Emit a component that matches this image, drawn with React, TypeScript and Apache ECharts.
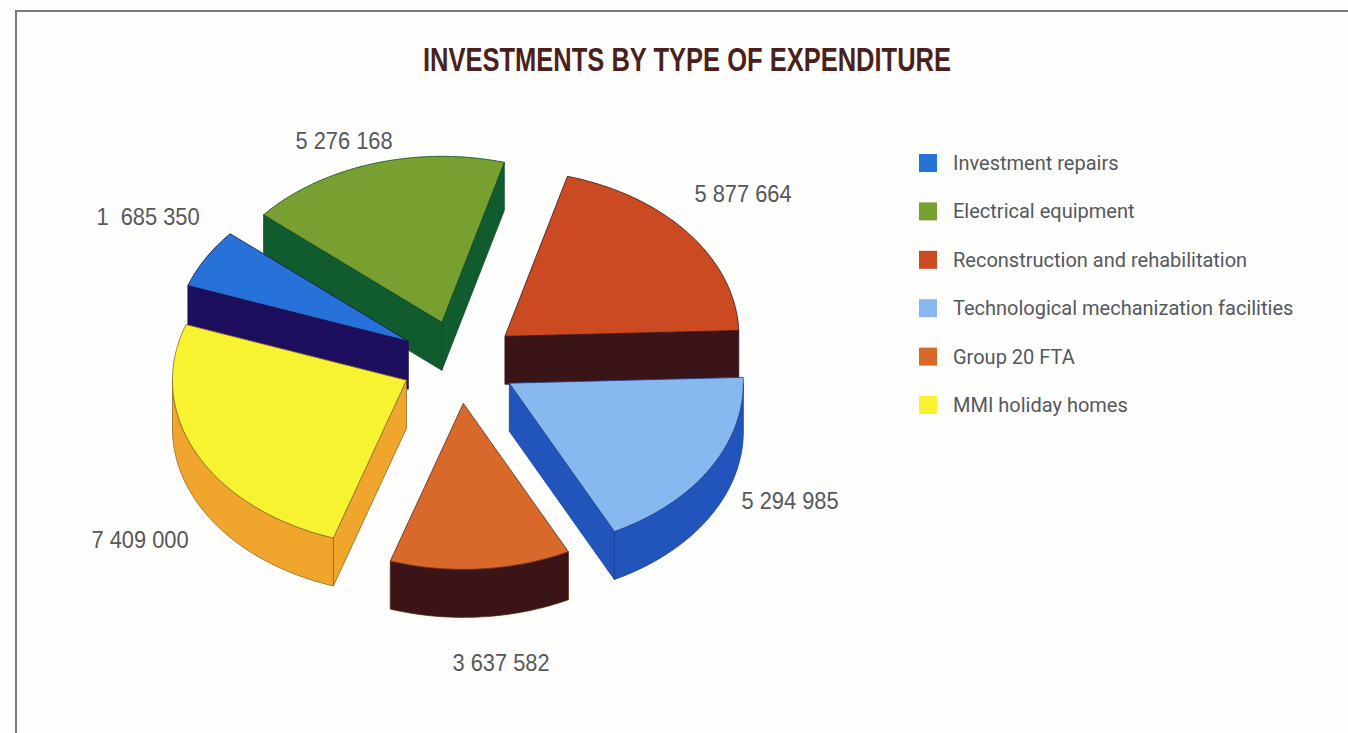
import React, { useEffect, useRef } from "react";
import * as echarts from "echarts";

const TITLE = "INVESTMENTS BY TYPE OF EXPENDITURE";
const CATEGORIES = [
  "Investment repairs",
  "Electrical equipment",
  "Reconstruction and rehabilitation",
  "Technological mechanization facilities",
  "Group 20 FTA",
  "MMI holiday homes",
];
const VALUES = [1685350, 5276168, 5877664, 5294985, 3637582, 7409000];
const VALUE_LABELS = ["1  685 350", "5 276 168", "5 877 664", "5 294 985", "3 637 582", "7 409 000"];

const TOP_COLORS = ["#2672d8", "#77a030", "#cc4a22", "#88b8f0", "#d9692a", "#f8f330"];
const WALL_COLORS = ["#1e0f5e", "#115c2e", "#3a1416", "#2255bb", "#3a1416", "#f0a52c"];
const EDGE_COLORS = ["#16104a", "#0e4a24", "#3a1416", "#1a3f8f", "#5a2a14", "#8a6a28"];
// back-to-front painting order of the six slices (indices into CATEGORIES)
const PAINT_ORDER = [1, 2, 0, 5, 3, 4];
const LABEL_POS: [number, number][] = [
  [148, 217],
  [344, 141],
  [743, 194],
  [790, 501],
  [501, 663],
  [140, 540],
];

const CX = 459;
const CY = 362;
const RX = 234;
const RY = 166;
const DEPTH = 48;
const EXPLODE = 0.25;
const START_ANGLE = 160.4;
const SANS = '"Liberation Sans", sans-serif';

const TOTAL = VALUES.reduce((a, b) => a + b, 0);
const rad = (d: number) => (d * Math.PI) / 180;

function sliceAngles(i: number) {
  const before = VALUES.slice(0, i).reduce((a, b) => a + b, 0);
  const a0 = START_ANGLE - (before / TOTAL) * 360;
  const a1 = a0 - (VALUES[i] / TOTAL) * 360;
  return { lo: a1, hi: a0 };
}

function buildSlice(i: number, value: number) {
  const { lo, hi } = sliceAngles(i);
  const sweep = (value / TOTAL) * 360;
  const mid = (lo + hi) / 2;
  const ax = CX + RX * EXPLODE * Math.cos(rad(mid));
  const ay = CY - RY * EXPLODE * Math.sin(rad(mid));
  const pt = (t: number): [number, number] => [ax + RX * Math.cos(rad(t)), ay - RY * Math.sin(rad(t))];
  const down = (p: [number, number]): [number, number] => [p[0], p[1] + DEPTH];
  const arc = (a: number, b: number) => {
    const n = Math.max(2, Math.ceil(Math.abs(b - a)));
    const out: [number, number][] = [];
    for (let k = 0; k <= n; k++) out.push(pt(a + ((b - a) * k) / n));
    return out;
  };
  const lineStyle = { stroke: EDGE_COLORS[i], lineWidth: 0.8 };
  const children: any[] = [];
  const midPt = pt(mid);
  [lo, hi].forEach((t) => {
    const p = pt(t);
    const ex = p[0] - ax;
    const ey = p[1] - ay;
    let nx = -ey;
    let ny = ex;
    if (nx * (midPt[0] - ax) + ny * (midPt[1] - ay) > 0) {
      nx = -nx;
      ny = -ny;
    }
    if (ny > 0) {
      children.push({
        type: "polygon",
        shape: { points: [[ax, ay], p, down(p), [ax, ay + DEPTH]] },
        style: { fill: WALL_COLORS[i], ...lineStyle },
      });
    }
  });
  const base = ((lo % 360) + 360) % 360;
  [180, 540].forEach((s) => {
    const a = Math.max(base, s);
    const b = Math.min(base + sweep, s + 180);
    if (b > a) {
      const top = arc(a, b);
      const bottom = top.map(down).reverse();
      children.push({
        type: "polygon",
        shape: { points: [...top, ...bottom] },
        style: { fill: WALL_COLORS[i], ...lineStyle },
      });
    }
  });
  children.push({
    type: "polygon",
    shape: { points: [[ax, ay], ...arc(lo, hi)] },
    style: { fill: TOP_COLORS[i], ...lineStyle },
  });
  children.push({
    type: "text",
    x: LABEL_POS[i][0],
    y: LABEL_POS[i][1],
    scaleX: 0.91,
    style: {
      text: VALUE_LABELS[i],
      align: "center",
      verticalAlign: "middle",
      fill: "#55585c",
      font: `24px ${SANS}`,
    },
  });
  return { type: "group", children };
}

export default function App() {
  const ref = useRef<HTMLDivElement>(null);
  useEffect(() => {
    const chart = echarts.init(ref.current!, undefined, { renderer: "svg" });
    chart.setOption({
      animation: false,
      backgroundColor: "#fdfdfc",
      legend: {
        data: CATEGORIES,
        orient: "vertical",
        left: 919,
        top: 153,
        padding: 0,
        itemWidth: 18,
        itemHeight: 18,
        itemGap: 28.4,
        icon: "rect",
        selectedMode: false,
        textStyle: { fontFamily: "Roboto, sans-serif", fontSize: 20, color: "#55585c", padding: [0, 0, 0, 11] },
        itemStyle: { borderWidth: 0 },
      },
      graphic: [
        {
          type: "polyline",
          shape: { points: [[16, 733], [16, 11], [1348, 11]] },
          style: { stroke: "#7a7a7c", lineWidth: 2, fill: "none" },
          silent: true,
        },
        {
          type: "text",
          x: 687,
          y: 59,
          scaleX: 0.75,
          style: {
            text: TITLE,
            align: "center",
            verticalAlign: "middle",
            fill: "#4a1f1c",
            font: `bold 34px ${SANS}`,
          },
          silent: true,
        },
      ],
      series: PAINT_ORDER.map((i) => ({
        type: "custom",
        name: CATEGORIES[i],
        coordinateSystem: "none",
        silent: true,
        itemStyle: { color: TOP_COLORS[i] },
        data: [[VALUES[i]]],
        renderItem: (_p: any, api: any) => buildSlice(i, api.value(0)),
      })),
    });
    return () => chart.dispose();
  }, []);
  return <div ref={ref} style={{ position: "fixed", left: 0, top: 0, width: 1348, height: 733 }} />;
}
